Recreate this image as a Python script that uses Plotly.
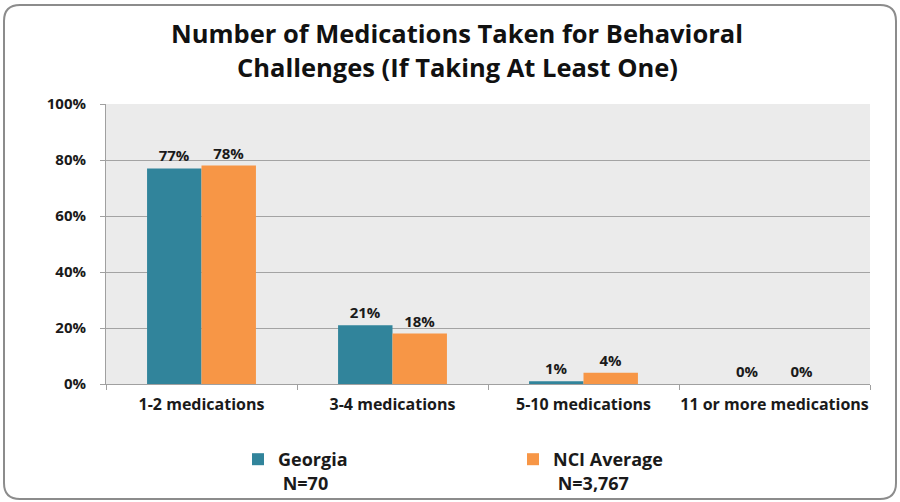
import plotly.graph_objects as go

# Share of people by number of behavioral-challenge medications taken
categories = ["1-2 medications", "3-4 medications", "5-10 medications", "11 or more medications"]
georgia = [77, 21, 1, 0]
nci_average = [78, 18, 4, 0]
series_names = ["Georgia<br> N=70", "NCI Average<br> N=3,767"]
y_ticks = [0, 20, 40, 60, 80, 100]
title_lines = ["Number of Medications Taken for Behavioral", "Challenges (If Taking At Least One)"]

TEAL = "#31849B"
ORANGE = "#F79646"
FONT = "Open Sans"
INK = "#1a1a1a"

W, H = 900, 502
ML, MR, MT, MB = 106, 30, 104, 118
PW, PH = W - ML - MR, H - MT - MB


def px(x):
    return (x - ML) / PW


def py(y):
    return (H - MB - y) / PH


fig = go.Figure()
for name, vals, color in [(series_names[0], georgia, TEAL), (series_names[1], nci_average, ORANGE)]:
    fig.add_trace(go.Bar(
        x=categories, y=vals, name=name,
        marker=dict(color=color, line=dict(width=0)),
        text=[f"{v}%" for v in vals], textposition="outside",
        textfont=dict(family=FONT, size=15, color=INK, weight="bold"),
        cliponaxis=False,
    ))

# rounded outer frame around the whole chart
x0, x1, y0, y1, r = 4, 896, 5, 499, 16
frame = (
    f"M {px(x0 + r)},{py(y0)} L {px(x1 - r)},{py(y0)} "
    f"Q {px(x1)},{py(y0)} {px(x1)},{py(y0 + r)} L {px(x1)},{py(y1 - r)} "
    f"Q {px(x1)},{py(y1)} {px(x1 - r)},{py(y1)} L {px(x0 + r)},{py(y1)} "
    f"Q {px(x0)},{py(y1)} {px(x0)},{py(y1 - r)} L {px(x0)},{py(y0 + r)} "
    f"Q {px(x0)},{py(y0)} {px(x0 + r)},{py(y0)} Z"
)

title_annotations = [
    dict(text=line, x=px(457), y=py(yc),
         xref="paper", yref="paper", xanchor="center", yanchor="middle",
         showarrow=False,
         font=dict(family=FONT, size=25.5, color="#111111", weight="bold"))
    for line, yc in zip(title_lines, [33, 67])
]

fig.update_layout(
    width=W, height=H,
    margin=dict(l=ML, r=MR, t=MT, b=MB, autoexpand=False),
    paper_bgcolor="white",
    plot_bgcolor="#EBEBEB",
    barmode="group",
    bargap=0.43,
    bargroupgap=0,
    font=dict(family=FONT, color=INK),
    xaxis=dict(
        type="category", tickangle=0, automargin=False,
        tickson="boundaries", ticks="outside", ticklen=5, tickcolor="#A0A0A0",
        showline=True, linecolor="#A0A0A0", linewidth=1,
        tickfont=dict(family=FONT, size=16, color=INK, weight="bold"),
        ticklabelstandoff=6,
        showgrid=False,
    ),
    yaxis=dict(
        range=[0, 100], tickvals=y_ticks, ticktext=[f"{v}%" for v in y_ticks],
        automargin=False,
        ticks="outside", ticklen=5, tickcolor="#A0A0A0",
        showline=True, linecolor="#A0A0A0", linewidth=1,
        gridcolor="#A3A3A3", gridwidth=1,
        zeroline=False,
        tickfont=dict(family=FONT, size=15, color=INK, weight="bold"),
        ticklabelstandoff=11,
    ),
    legend=dict(
        orientation="h",
        x=px(238), xanchor="left",
        y=1 - 441 / H, yref="container", yanchor="top",
        valign="top",
        itemwidth=30,
        entrywidth=230, entrywidthmode="pixels",
        font=dict(family=FONT, size=18, color=INK, weight="bold"),
        bgcolor="rgba(0,0,0,0)",
    ),
    annotations=title_annotations,
    shapes=[dict(type="path", path=frame, xref="paper", yref="paper",
                 line=dict(color="#8C8C8C", width=2), layer="below")],
)

fig.write_html("out.html")
